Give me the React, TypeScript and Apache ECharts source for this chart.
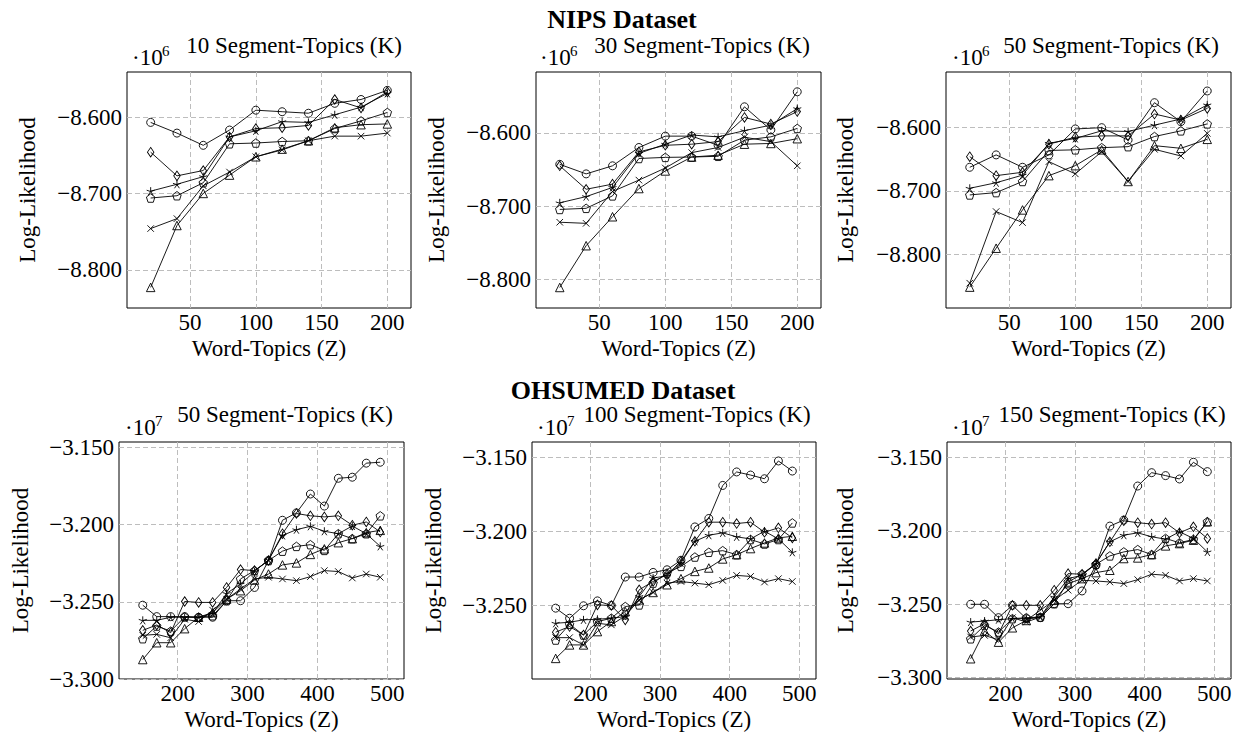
import React, { useEffect, useRef } from 'react';
import * as echarts from 'echarts';

// ---------- data ----------
const TOP_X = [20, 40, 60, 80, 100, 120, 140, 160, 180, 200];
const BOTTOM_X = [150, 170, 190, 210, 230, 250, 270, 290, 310, 330, 350, 370, 390, 410, 430, 450, 470, 490];

const TOP_X_TICKS = [50, 100, 150, 200];
const BOTTOM_X_TICKS = [200, 300, 400, 500];
const TOP_Y_TICKS = [-8.8, -8.7, -8.6];
const BOTTOM_Y_TICKS = [-3.3, -3.25, -3.2, -3.15];

// NIPS, 10 segment-topics (x 10^6)
const nips10Circle = [-8.607, -8.621, -8.637, -8.617, -8.591, -8.593, -8.595, -8.582, -8.577, -8.565];
const nips10Diamond = [-8.646, -8.677, -8.670, -8.626, -8.615, -8.614, -8.611, -8.577, -8.588, -8.567];
const nips10Pentagon = [-8.706, -8.703, -8.686, -8.635, -8.634, -8.632, -8.631, -8.615, -8.605, -8.594];
const nips10Star = [-8.697, -8.688, -8.678, -8.626, -8.618, -8.606, -8.607, -8.597, -8.587, -8.569];
const nips10Triangle = [-8.823, -8.742, -8.700, -8.676, -8.652, -8.642, -8.631, -8.614, -8.610, -8.609];
const nips10Cross = [-8.746, -8.733, -8.690, -8.672, -8.652, -8.643, -8.631, -8.625, -8.625, -8.621];

// NIPS, 30 segment-topics
const nips30Circle = [-8.643, -8.656, -8.645, -8.620, -8.6045, -8.6045, -8.617, -8.5645, -8.596, -8.544];
const nips30Diamond = [-8.645, -8.677, -8.670, -8.626, -8.617, -8.6155, -8.612, -8.579, -8.588, -8.571];
const nips30Pentagon = [-8.7045, -8.703, -8.686, -8.635, -8.6335, -8.633, -8.632, -8.610, -8.6055, -8.594];
const nips30Star = [-8.6955, -8.687, -8.6745, -8.628, -8.6155, -8.603, -8.6055, -8.597, -8.5895, -8.567];
const nips30Triangle = [-8.811, -8.754, -8.7145, -8.676, -8.652, -8.633, -8.6305, -8.6155, -8.6145, -8.608];
const nips30Cross = [-8.722, -8.7235, -8.680, -8.6645, -8.648, -8.627, -8.620, -8.606, -8.612, -8.645];

// NIPS, 50 segment-topics
const nips50Circle = [-8.6626, -8.643, -8.6626, -8.643, -8.602, -8.600, -8.6195, -8.5605, -8.5905, -8.542];
const nips50Diamond = [-8.6458, -8.6758, -8.6705, -8.626, -8.615, -8.613, -8.613, -8.5784, -8.588, -8.5695];
const nips50Pentagon = [-8.7063, -8.7026, -8.685, -8.636, -8.635, -8.6316, -8.630, -8.614, -8.605, -8.594];
const nips50Star = [-8.6958, -8.687, -8.675, -8.6247, -8.617, -8.605, -8.606, -8.596, -8.5863, -8.564];
const nips50Triangle = [-8.852, -8.7905, -8.730, -8.6758, -8.660, -8.635, -8.685, -8.6284, -8.6326, -8.6184];
const nips50Cross = [-8.8458, -8.7326, -8.750, -8.6537, -8.673, -8.638, -8.685, -8.6342, -8.6447, -8.609];

// OHSUMED, 50 segment-topics (x 10^7)
const ohs50Circle = [-3.2522, -3.2596, -3.2596, -3.2596, -3.26, -3.26, -3.2493, -3.2493, -3.2407, -3.2233, -3.1972, -3.1924, -3.1802, -3.188, -3.17, -3.1693, -3.1602, -3.1596];
const ohs50Diamond = [-3.2685, -3.265, -3.27, -3.2498, -3.2504, -3.2504, -3.2407, -3.2291, -3.2298, -3.2233, -3.2059, -3.1928, -3.1943, -3.195, -3.1943, -3.2004, -3.1983, -3.2048];
const ohs50Pentagon = [-3.2739, -3.2657, -3.269, -3.2598, -3.26, -3.259, -3.2493, -3.2352, -3.2298, -3.2233, -3.2172, -3.2141, -3.213, -3.2167, -3.2059, -3.2091, -3.2059, -3.1943];
const ohs50Star = [-3.262, -3.262, -3.26, -3.26, -3.26, -3.2576, -3.2446, -3.2385, -3.2304, -3.2228, -3.207, -3.2033, -3.2011, -3.2043, -3.2059, -3.2009, -3.2059, -3.2141];
const ohs50Triangle = [-3.2874, -3.2765, -3.2765, -3.2674, -3.26, -3.257, -3.2483, -3.2428, -3.2359, -3.232, -3.2261, -3.2248, -3.2193, -3.2157, -3.2117, -3.2091, -3.2052, -3.2037];
const ohs50Cross = [-3.2717, -3.2711, -3.2733, -3.2613, -3.2628, -3.2554, -3.2483, -3.2417, -3.2352, -3.2341, -3.2352, -3.2363, -3.2337, -3.2298, -3.2304, -3.2346, -3.232, -3.2341];

// OHSUMED, 100 segment-topics
const ohs100Circle = [-3.2519, -3.2587, -3.2503, -3.247, -3.2501, -3.2309, -3.2309, -3.2278, -3.226, -3.2196, -3.1971, -3.1914, -3.1691, -3.16, -3.1621, -3.1646, -3.1526, -3.1594];
const ohs100Diamond = [-3.2681, -3.2643, -3.27, -3.2497, -3.2501, -3.2598, -3.2395, -3.2339, -3.2293, -3.2203, -3.2068, -3.1939, -3.1939, -3.1948, -3.1939, -3.2007, -3.1977, -3.2045];
const ohs100Pentagon = [-3.2734, -3.2628, -3.27, -3.261, -3.2587, -3.2508, -3.2497, -3.235, -3.2282, -3.2237, -3.2174, -3.2142, -3.2131, -3.2158, -3.2056, -3.2086, -3.2056, -3.1944];
const ohs100Star = [-3.2621, -3.2614, -3.2598, -3.2594, -3.2587, -3.2576, -3.244, -3.2316, -3.23, -3.2214, -3.2068, -3.2027, -3.2011, -3.2038, -3.2052, -3.2, -3.2052, -3.2142];
const ohs100Triangle = [-3.2858, -3.2767, -3.2767, -3.2677, -3.2609, -3.2542, -3.2463, -3.2413, -3.2361, -3.232, -3.2271, -3.2248, -3.2187, -3.2158, -3.2117, -3.2079, -3.2045, -3.2034];
const ohs100Cross = [-3.2718, -3.2718, -3.2767, -3.2621, -3.2632, -3.2571, -3.2463, -3.2413, -3.235, -3.2339, -3.235, -3.2361, -3.2332, -3.2298, -3.2305, -3.2343, -3.232, -3.2339];

// OHSUMED, 150 segment-topics
const ohs150Circle = [-3.2501, -3.2501, -3.2592, -3.2508, -3.2599, -3.2592, -3.2497, -3.2497, -3.241, -3.2235, -3.1968, -3.1927, -3.1695, -3.1604, -3.1624, -3.1647, -3.1533, -3.1597];
const ohs150Diamond = [-3.2683, -3.2633, -3.2702, -3.2508, -3.2508, -3.2508, -3.2405, -3.2292, -3.2296, -3.2223, -3.2075, -3.1932, -3.1945, -3.1954, -3.1945, -3.2014, -3.1973, -3.2052];
const ohs150Pentagon = [-3.2736, -3.2645, -3.269, -3.2599, -3.2592, -3.2588, -3.2497, -3.2349, -3.2296, -3.2228, -3.2171, -3.2144, -3.2128, -3.2162, -3.2052, -3.2082, -3.2059, -3.1938];
const ohs150Star = [-3.2622, -3.2615, -3.2606, -3.2599, -3.2599, -3.2588, -3.2451, -3.2326, -3.2303, -3.2223, -3.2075, -3.203, -3.2014, -3.2041, -3.2057, -3.2007, -3.2052, -3.2144];
const ohs150Triangle = [-3.2872, -3.2683, -3.2759, -3.2661, -3.2611, -3.2542, -3.2474, -3.236, -3.2326, -3.2285, -3.2269, -3.2189, -3.2185, -3.2162, -3.2103, -3.2087, -3.2064, -3.1938];
const ohs150Cross = [-3.2724, -3.2713, -3.2743, -3.2592, -3.2622, -3.2588, -3.2474, -3.2405, -3.2337, -3.2342, -3.2349, -3.236, -3.2333, -3.2296, -3.2303, -3.2342, -3.2326, -3.2342];

// ---------- styling ----------
const FONT = "'Liberation Serif', serif";
const fmt = (v: number) => (v < 0 ? '\u2212' : '') + Math.abs(v).toFixed(3);

const MARKERS: Record<string, { symbol: string; size: number | number[] }> = {
  circle: { symbol: 'circle', size: 8 },
  diamond: { symbol: 'diamond', size: [6.5, 9.5] },
  pentagon: { symbol: 'path://M10 0L19.51 6.91L15.88 18.09L4.12 18.09L0.49 6.91Z', size: 8.5 },
  star: { symbol: 'path://M10 10L10 0M10 10L19.51 6.91M10 10L15.88 18.09M10 10L4.12 18.09M10 10L0.49 6.91', size: 8 },
  triangle: { symbol: 'triangle', size: 8.5 },
  cross: { symbol: 'path://M0 0L10 10M10 0L0 10', size: 6.5 },
};

const PANELS = [
  {
    left: 127, top: 72, width: 284, height: 236, xMin: 2, xMax: 218, yMin: -8.85, yMax: -8.541,
    x: TOP_X, xTicks: TOP_X_TICKS, yTicks: TOP_Y_TICKS,
    title: '10 Segment-Topics (K)', titleX: 294, titleY: 45, exp: '6', expX: 132, expY: 57.5, yNameX: 27,
    lines: { circle: nips10Circle, diamond: nips10Diamond, pentagon: nips10Pentagon, star: nips10Star, triangle: nips10Triangle, cross: nips10Cross },
  },
  {
    left: 536, top: 72, width: 285, height: 236, xMin: 2, xMax: 218, yMin: -8.839, yMax: -8.517,
    x: TOP_X, xTicks: TOP_X_TICKS, yTicks: TOP_Y_TICKS,
    title: '30 Segment-Topics (K)', titleX: 702, titleY: 45, exp: '6', expX: 540, expY: 57.5, yNameX: 436,
    lines: { circle: nips30Circle, diamond: nips30Diamond, pentagon: nips30Pentagon, star: nips30Star, triangle: nips30Triangle, cross: nips30Cross },
  },
  {
    left: 946, top: 72, width: 285, height: 236, xMin: 2, xMax: 218, yMin: -8.885, yMax: -8.512,
    x: TOP_X, xTicks: TOP_X_TICKS, yTicks: TOP_Y_TICKS,
    title: '50 Segment-Topics (K)', titleX: 1111, titleY: 45, exp: '6', expX: 952, expY: 57.5, yNameX: 845,
    lines: { circle: nips50Circle, diamond: nips50Diamond, pentagon: nips50Pentagon, star: nips50Star, triangle: nips50Triangle, cross: nips50Cross },
  },
  {
    left: 119, top: 442, width: 285, height: 237, xMin: 116, xMax: 524, yMin: -3.3, yMax: -3.1465,
    x: BOTTOM_X, xTicks: BOTTOM_X_TICKS, yTicks: BOTTOM_Y_TICKS,
    title: '50 Segment-Topics (K)', titleX: 285, titleY: 414, exp: '7', expX: 125, expY: 427.5, yNameX: 20,
    lines: { circle: ohs50Circle, diamond: ohs50Diamond, pentagon: ohs50Pentagon, star: ohs50Star, triangle: ohs50Triangle, cross: ohs50Cross },
  },
  {
    left: 532, top: 442, width: 284, height: 237, xMin: 116, xMax: 524, yMin: -3.2997, yMax: -3.1398,
    x: BOTTOM_X, xTicks: BOTTOM_X_TICKS, yTicks: BOTTOM_Y_TICKS,
    title: '100 Segment-Topics (K)', titleX: 697, titleY: 414, exp: '7', expX: 537, expY: 427.5, yNameX: 433,
    lines: { circle: ohs100Circle, diamond: ohs100Diamond, pentagon: ohs100Pentagon, star: ohs100Star, triangle: ohs100Triangle, cross: ohs100Cross },
  },
  {
    left: 947, top: 442, width: 284, height: 237, xMin: 116, xMax: 524, yMin: -3.301, yMax: -3.1395,
    x: BOTTOM_X, xTicks: BOTTOM_X_TICKS, yTicks: BOTTOM_Y_TICKS,
    title: '150 Segment-Topics (K)', titleX: 1112, titleY: 414, exp: '7', expX: 952, expY: 427.5, yNameX: 845,
    lines: { circle: ohs150Circle, diamond: ohs150Diamond, pentagon: ohs150Pentagon, star: ohs150Star, triangle: ohs150Triangle, cross: ohs150Cross },
  },
];

const textEl = (text: string, x: number, y: number, size: number, extra: any = {}) => ({
  type: 'text',
  x,
  y,
  silent: true,
  rotation: extra.rotation || 0,
  style: {
    text,
    fontFamily: FONT,
    fontSize: size,
    fontWeight: extra.bold ? 'bold' : 'normal',
    fill: '#000',
    align: extra.align || 'center',
    verticalAlign: 'middle',
  },
});

export default function App() {
  const ref = useRef<HTMLDivElement>(null);

  useEffect(() => {
    if (!ref.current) return;
    const chart = echarts.init(ref.current, null, { renderer: 'svg' });

    const grid: any[] = [];
    const xAxis: any[] = [];
    const yAxis: any[] = [];
    const series: any[] = [];
    const graphic: any[] = [
      textEl('NIPS Dataset', 622, 19, 26, { bold: true }),
      textEl('OHSUMED Dataset', 623, 390, 26, { bold: true }),
    ];

    PANELS.forEach((p, i) => {
      grid.push({
        left: p.left, top: p.top, width: p.width, height: p.height,
        show: true, borderColor: '#000', borderWidth: 1, backgroundColor: 'transparent',
        containLabel: false, outerBoundsMode: 'none',
      });
      xAxis.push({
        type: 'value', gridIndex: i, min: p.xMin, max: p.xMax,
        axisLine: { show: false },
        axisTick: { show: false, customValues: p.xTicks },
        axisLabel: { customValues: p.xTicks, margin: 3, fontFamily: FONT, fontSize: 23, color: '#000' },
        splitLine: { show: true, lineStyle: { color: '#bdbdbd', type: [5, 3], width: 1 } },
      });
      yAxis.push({
        type: 'value', gridIndex: i, min: p.yMin, max: p.yMax,
        axisLine: { show: false },
        axisTick: { show: false, customValues: p.yTicks },
        axisLabel: { customValues: p.yTicks, margin: 5, fontFamily: FONT, fontSize: 23, color: '#000', formatter: fmt },
        splitLine: { show: true, lineStyle: { color: '#bdbdbd', type: [5, 3], width: 1 } },
      });
      Object.entries(p.lines).forEach(([marker, values]) => {
        const m = MARKERS[marker];
        series.push({
          type: 'line',
          name: `${p.title} ${marker}`,
          xAxisIndex: i,
          yAxisIndex: i,
          data: (values as number[]).map((v, k) => [p.x[k], v]),
          symbol: m.symbol,
          symbolSize: m.size,
          showAllSymbol: true,
          silent: true,
          emphasis: { disabled: true },
          lineStyle: { color: '#000', width: 0.9 },
          itemStyle: { color: 'rgba(255,255,255,0)', borderColor: '#000', borderWidth: 0.9 },
        });
      });
      const cx = p.left + p.width / 2;
      const cy = p.top + p.height / 2;
      graphic.push(textEl(p.title, p.titleX, p.titleY, 23));
      graphic.push(textEl('\u00b710', p.expX, p.expY, 23, { align: 'left' }));
      graphic.push(textEl(p.exp, p.expX + 30, p.expY - 6.5, 15, { align: 'left' }));
      graphic.push(textEl('Log-Likelihood', p.yNameX, cy, 23, { rotation: Math.PI / 2 }));
      graphic.push(textEl('Word-Topics (Z)', cx, p.top + p.height + 40, 23));
    });

    chart.setOption({
      animation: false,
      backgroundColor: '#fff',
      grid,
      xAxis,
      yAxis,
      series,
      graphic,
    });

    return () => chart.dispose();
  }, []);

  return <div ref={ref} style={{ position: 'absolute', left: 0, top: 0, width: 1240, height: 734 }} />;
}
